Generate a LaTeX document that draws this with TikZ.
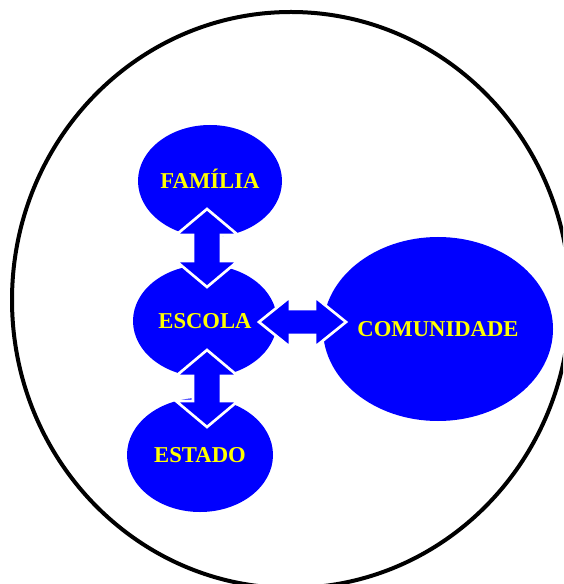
\documentclass[tikz,border=0pt]{standalone}
\usepackage{fontspec}
\setmainfont{Liberation Serif}
\usetikzlibrary{shapes.geometric}
\definecolor{bblue}{RGB}{0,0,255}
\definecolor{byellow}{RGB}{255,255,0}
\newcommand\myvarrow[3]{% x, top tip, bottom tip
 \draw[arrowshape] (#1,#2) -- ({#1+31},{#2+26}) -- ({#1+14},{#2+26}) -- ({#1+14},{#3-26}) -- ({#1+31},{#3-26}) -- (#1,#3) -- ({#1-31},{#3-26}) -- ({#1-14},{#3-26}) -- ({#1-14},{#2+26}) -- ({#1-31},{#2+26}) -- cycle;}
\newcommand\myharrow[3]{% y, left tip, right tip
 \draw[arrowshape] (#2,#1) -- ({#2+31},{#1-25}) -- ({#2+31},{#1-13}) -- ({#3-31},{#1-13}) -- ({#3-31},{#1-25}) -- (#3,#1) -- ({#3-31},{#1+25}) -- ({#3-31},{#1+13}) -- ({#2+31},{#1+13}) -- ({#2+31},{#1+25}) -- cycle;}
\begin{document}
\begin{tikzpicture}[x=0.75pt,y=-0.75pt,
  blob/.style={ellipse, fill=bblue, inner sep=0pt, text=byellow,
    font=\fontsize{17}{19}\selectfont\bfseries, text height=11.2pt, text depth=0pt},
  arrowshape/.style={fill=bblue, draw=white, line width=2pt, line join=miter},
  outer/.style={draw=black, line width=3pt}]
\useasboundingbox (0,0) rectangle (563,584);
\begin{scope}
\clip (0,0) rectangle (563,584);
\draw[outer] (291,300) ellipse [x radius=279, y radius=288];
\end{scope}
\node[blob, minimum width=108pt, minimum height=84pt] (fam) at (210,181) {FAMÍLIA};
\node[blob, minimum width=108pt, minimum height=84pt] (esc) at (205,321) {ESCOLA};
\node[blob, minimum width=109.5pt, minimum height=85.5pt] (est) at (200,455) {ESTADO};
\node[blob, minimum width=172.5pt, minimum height=138pt] (com) at (438,329) {COMUNIDADE};
\myvarrow{207}{209}{287}
\myvarrow{207}{350}{427}
\myharrow{322}{259}{346}
\end{tikzpicture}
\end{document}
